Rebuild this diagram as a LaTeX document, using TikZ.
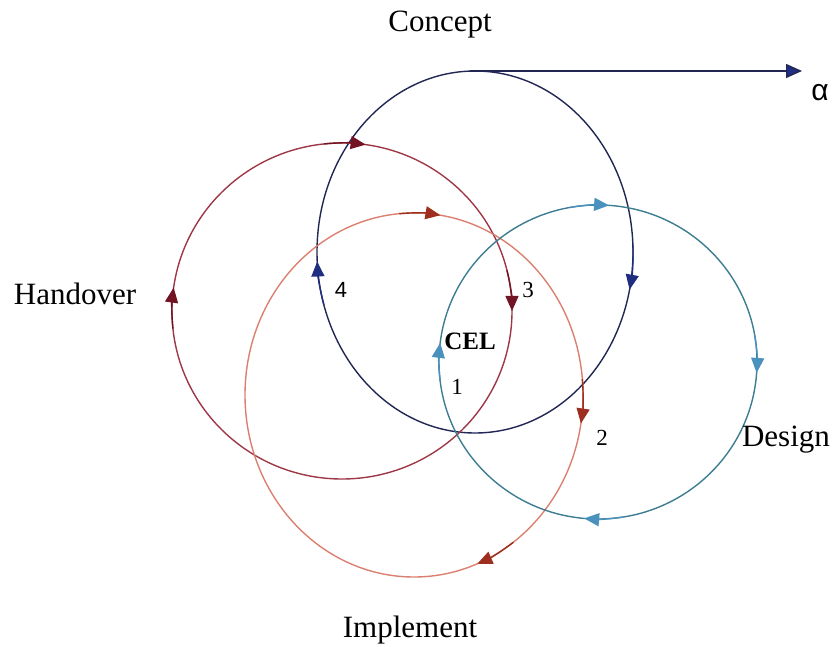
\documentclass[tikz,border=0pt]{standalone}
\usepackage{fontspec}
\setmainfont{Liberation Serif}
\newfontfamily\arialfont{Liberation Sans}
\usetikzlibrary{arrows.meta}

\definecolor{navyline}{rgb}{0.13,0.15,0.33}
\definecolor{navytip}{rgb}{0.12,0.18,0.50}
\definecolor{wineline}{rgb}{0.62,0.22,0.28}
\definecolor{winetip}{rgb}{0.45,0.08,0.14}
\definecolor{salmonline}{rgb}{0.86,0.50,0.44}
\definecolor{salmontip}{rgb}{0.62,0.18,0.12}
\definecolor{tealline}{rgb}{0.24,0.49,0.57}
\definecolor{tealtip}{rgb}{0.29,0.57,0.74}

% arrowhead sitting on an ellipse, pointing clockwise
% #1 colour, #2 #3 centre, #4 #5 radii, #6 angle
\newcommand\ringtip[6]{%
  \draw[#1,ringline,-{Triangle[length=15pt,width=13pt]}]
    (#2,#3) ++({#6+10}:#4 and #5)
    arc[start angle={#6+10}, delta angle=-14, x radius=#4, y radius=#5];}

\begin{document}
\begin{tikzpicture}[x=1pt,y=1pt,
    ringline/.style={line width=1.4pt},
    biglabel/.style={font=\fontsize{31}{31}\selectfont, inner sep=0pt},
    numlabel/.style={font=\fontsize{23}{23}\selectfont, inner sep=0pt}]
  \useasboundingbox (0,0) rectangle (833,646);

  % centres of the four cycles
  \coordinate (cC) at (475,394);
  \coordinate (cH) at (342,335);
  \coordinate (cI) at (414,251);
  \coordinate (cD) at (598,284);

  % the four cycles
  \draw[navyline,ringline]   (cC) ellipse [x radius=158pt, y radius=181pt];
  \draw[wineline,ringline]   (cH) ellipse [x radius=170pt, y radius=168pt];
  \draw[salmonline,ringline] (cI) ellipse [x radius=169pt, y radius=182pt];
  \draw[tealline,ringline]   (cD) ellipse [x radius=159pt, y radius=157pt];

  % direction marks
  \ringtip{navytip}{475}{394}{158}{181}{187}
  \ringtip{navytip}{475}{394}{158}{181}{-8}
  \ringtip{winetip}{342}{335}{170}{168}{86}
  \ringtip{winetip}{342}{335}{170}{168}{176}
  \ringtip{winetip}{342}{335}{170}{168}{4}
  \ringtip{salmontip}{414}{251}{169}{182}{85}
  \ringtip{salmontip}{414}{251}{169}{182}{-5}
  \ringtip{salmontip}{414}{251}{169}{182}{-64}
  \ringtip{tealtip}{598}{284}{159}{157}{90}
  \ringtip{tealtip}{598}{284}{159}{157}{0}
  \ringtip{tealtip}{598}{284}{159}{157}{-91}
  \ringtip{tealtip}{598}{284}{159}{157}{177}

  % axis leaving the top of the concept cycle
  \coordinate (ctop) at (470,575);
  \coordinate (aend) at (802,575);
  \draw[navyline,ringline,-{Triangle[length=16pt,width=14pt,fill=navytip]}] (ctop) -- (aend);

  % labels
  \node[biglabel] (concept)   at (440,621) {Concept};
  \node[font=\arialfont\fontsize{30}{30}\selectfont, inner sep=0pt] (alpha) at (820,553) {α};
  \node[biglabel] (handover)  at (75,352)  {Handover};
  \node[biglabel] (design)    at (786,206) {Design};
  \node[biglabel] (implement) at (410,16)  {Implement};
  \node[font=\bfseries\fontsize{25}{25}\selectfont, inner sep=0pt] (cel) at (470,305) {CEL};
  \node[numlabel] (n1) at (457,259) {1};
  \node[numlabel] (n2) at (602,208) {2};
  \node[numlabel] (n3) at (528,356) {3};
  \node[numlabel,font=\arialfont\fontsize{22}{22}\selectfont] (n4) at (341,356) {4};
\end{tikzpicture}
\end{document}
